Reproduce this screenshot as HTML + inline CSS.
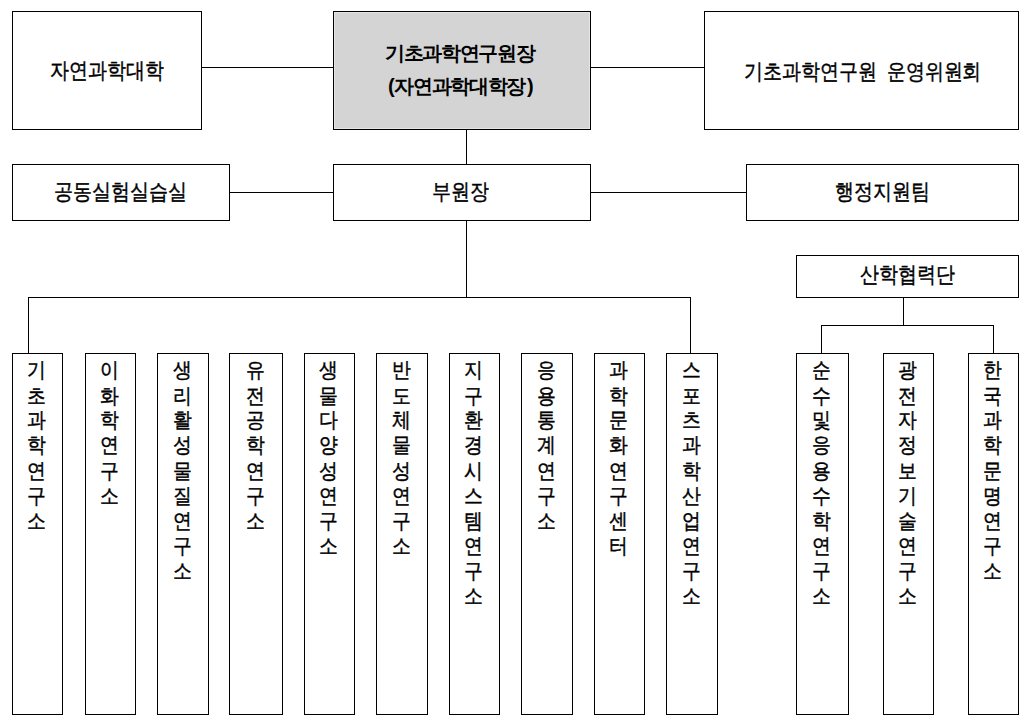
<!DOCTYPE html>
<html><head><meta charset="utf-8">
<style>
html,body{margin:0;padding:0;background:#fff;width:1028px;height:724px;overflow:hidden;}
body{position:relative;font-family:"Liberation Sans",sans-serif;color:#000;}
.b{position:absolute;box-sizing:border-box;border:1px solid #000;background:#fff;}
.h{position:absolute;height:1px;background:#000;}
.v{position:absolute;width:1px;background:#000;}
.t{position:absolute;white-space:nowrap;font-size:20px;line-height:20px;letter-spacing:0.3px;transform:scale(0.933,1.08);transform-origin:0 90%;-webkit-text-stroke:0.4px #000;}
.vt{position:absolute;top:3.5px;left:-1px;width:100%;text-align:center;font-size:20px;line-height:23.72px;transform:scale(0.95,1.06);transform-origin:50% 0;-webkit-text-stroke:0.4px #000;}
</style></head><body>
<!-- row 1 -->
<div class="b" style="left:12px;top:11px;width:190px;height:119px"></div>
<div class="b" style="left:333px;top:11px;width:258px;height:119px;background:#d4d4d4;box-shadow:inset 0 0 0 1px #e4e4e4"></div>
<div class="b" style="left:704px;top:11px;width:315px;height:119px"></div>
<div class="h" style="left:201px;top:67px;width:133px"></div>
<div class="h" style="left:590px;top:67px;width:115px"></div>
<!-- row 2 -->
<div class="b" style="left:12px;top:164px;width:218px;height:57px"></div>
<div class="b" style="left:333px;top:164px;width:258px;height:57px"></div>
<div class="b" style="left:746px;top:164px;width:273px;height:57px"></div>
<div class="h" style="left:229px;top:192px;width:105px"></div>
<div class="h" style="left:590px;top:192px;width:157px"></div>
<div class="v" style="left:466px;top:129px;height:36px"></div>
<div class="v" style="left:466px;top:220px;height:78px"></div>
<!-- 산학협력단 -->
<div class="b" style="left:796px;top:255px;width:223px;height:43px"></div>
<div class="v" style="left:903px;top:297px;height:29px"></div>
<div class="h" style="left:821px;top:325px;width:173px"></div>
<div class="v" style="left:821px;top:325px;height:29px"></div>
<div class="v" style="left:993px;top:325px;height:29px"></div>
<!-- left tree -->
<div class="h" style="left:28px;top:297px;width:663px"></div>
<div class="v" style="left:28px;top:297px;height:57px"></div>
<div class="v" style="left:690px;top:297px;height:57px"></div>

<!-- vertical boxes -->
<div class="b" style="left:12px;top:353px;width:51px;height:362px"><div class="vt" id="v1">기<br>초<br>과<br>학<br>연<br>구<br>소</div></div>
<div class="b" style="left:85px;top:353px;width:51px;height:362px"><div class="vt" id="v2">이<br>화<br>학<br>연<br>구<br>소</div></div>
<div class="b" style="left:157px;top:353px;width:52px;height:362px"><div class="vt" id="v3">생<br>리<br>활<br>성<br>물<br>질<br>연<br>구<br>소</div></div>
<div class="b" style="left:229px;top:353px;width:54px;height:362px"><div class="vt" id="v4">유<br>전<br>공<br>학<br>연<br>구<br>소</div></div>
<div class="b" style="left:304px;top:353px;width:51px;height:362px"><div class="vt" id="v5">생<br>물<br>다<br>양<br>성<br>연<br>구<br>소</div></div>
<div class="b" style="left:376px;top:353px;width:52px;height:362px"><div class="vt" id="v6">반<br>도<br>체<br>물<br>성<br>연<br>구<br>소</div></div>
<div class="b" style="left:449px;top:353px;width:51px;height:362px"><div class="vt" id="v7">지<br>구<br>환<br>경<br>시<br>스<br>템<br>연<br>구<br>소</div></div>
<div class="b" style="left:521px;top:353px;width:52px;height:362px"><div class="vt" id="v8">응<br>용<br>통<br>계<br>연<br>구<br>소</div></div>
<div class="b" style="left:594px;top:353px;width:51px;height:362px"><div class="vt" id="v9">과<br>학<br>문<br>화<br>연<br>구<br>센<br>터</div></div>
<div class="b" style="left:666px;top:353px;width:52px;height:362px"><div class="vt" id="v10">스<br>포<br>츠<br>과<br>학<br>산<br>업<br>연<br>구<br>소</div></div>
<div class="b" style="left:796px;top:353px;width:53px;height:362px"><div class="vt" id="v11">순<br>수<br>및<br>응<br>용<br>수<br>학<br>연<br>구<br>소</div></div>
<div class="b" style="left:883px;top:353px;width:51px;height:362px"><div class="vt" id="v12">광<br>전<br>자<br>정<br>보<br>기<br>술<br>연<br>구<br>소</div></div>
<div class="b" style="left:968px;top:353px;width:51px;height:362px"><div class="vt" id="v13">한<br>국<br>과<br>학<br>문<br>명<br>연<br>구<br>소</div></div>

<!-- texts -->
<div class="t" id="t1" style="left:50px;top:61px">자연과학대학</div>
<div class="t" id="t2a" style="left:385px;top:43px;font-weight:bold;-webkit-text-stroke:0;transform:none;letter-spacing:-1.33px">기초과학연구원장</div>
<div class="t" id="t2b" style="left:388px;top:76px;font-weight:bold;-webkit-text-stroke:0;transform:none;letter-spacing:-1.33px"><span style="margin-right:1px">(</span>자연과학대학장<span style="margin-left:2px">)</span></div>
<div class="t" id="t3" style="word-spacing:5px;left:744px;top:62px">기초과학연구원 운영위원회</div>
<div class="t" id="t4" style="left:54px;top:182px">공동실험실습실</div>
<div class="t" id="t5" style="left:432px;top:182px">부원장</div>
<div class="t" id="t6" style="left:835px;top:182px">행정지원팀</div>
<div class="t" id="t7" style="left:860px;top:265px">산학협력단</div>
</body></html>
